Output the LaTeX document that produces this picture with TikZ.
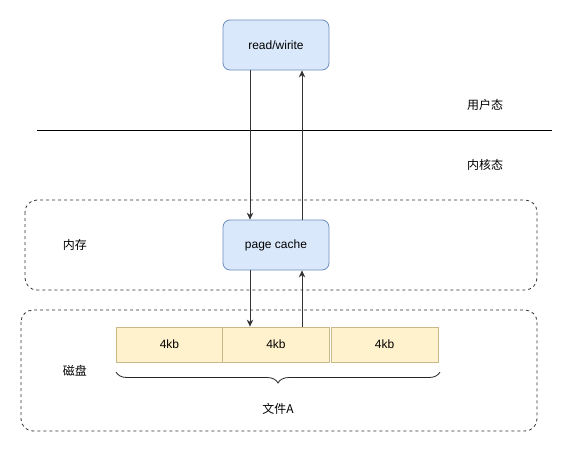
\documentclass[tikz,border=0pt]{standalone}
\usepackage{fontspec}
\setmainfont{Liberation Sans}
\newfontfamily\cjk{Noto Sans CJK SC}
\usetikzlibrary{arrows.meta,decorations.pathreplacing}
\definecolor{bluefill}{HTML}{DAE8FC}
\definecolor{blueline}{HTML}{6C8EBF}
\definecolor{yelfill}{HTML}{FFF2CC}
\definecolor{yelline}{HTML}{C8B88A}
\definecolor{arrowcol}{HTML}{333333}
\tikzset{
  procbox/.style={draw=blueline, fill=bluefill, rounded corners=7pt, line width=0.8pt,
    minimum width=106pt, minimum height=50pt, inner sep=0pt, font=\fontsize{12}{14}\selectfont},
  blockbox/.style={draw=yelline, fill=yelfill, line width=0.8pt,
    minimum width=107pt, minimum height=35pt, inner sep=0pt, font=\fontsize{12}{14}\selectfont},
  zone/.style={draw=black!80, dashed, rounded corners=12pt, line width=0.8pt},
  lbl/.style={font=\fontsize{12}{14}\selectfont\cjk, inner sep=0pt},
  flow/.style={draw=arrowcol, line width=0.9pt, -{Stealth[length=7pt,width=6.5pt]}},
}
\begin{document}
\begin{tikzpicture}[x=1pt,y=-1pt]
\useasboundingbox (0,0) rectangle (574,451);
\fill[white] (0,0) rectangle (574,451);
% zones
\draw[zone] (25,200) rectangle (537,290);
\draw[zone] (21,310) rectangle (537,431);
% separator
\draw[black, line width=0.8pt] (37,130) -- (552,130);
\node[lbl] (user) at (485,105) {用户态};
\node[lbl] (kernel) at (485,165) {内核态};
\node[lbl] (mem) at (75,245) {内存};
\node[lbl] (disk) at (75,371) {磁盘};
% boxes
\node[procbox] (rw) at (276,45) {read/wirite};
\node[procbox] (pc) at (276,245) {page cache};
\node[blockbox] (b1) at (169.5,344.5) {4kb};
\node[blockbox] (b2) at (276,344.5) {4kb};
\node[blockbox] (b3) at (384.5,344.5) {4kb};
% arrows
\draw[flow] (rw.south -| 250,0) -- (pc.north -| 250,0);
\draw[flow] (pc.north -| 302,0) -- (rw.south -| 302,0);
\draw[flow] (pc.south -| 250,0) -- (b1.north -| 250,0);
\draw[flow] (b2.north -| 302,0) -- (pc.south -| 302,0);
% brace
\coordinate (brL) at (116,372);
\coordinate (brR) at (440,372);
\draw[black!85, line width=0.8pt, decorate, decoration={brace, mirror, amplitude=11pt, aspect=0.5}] (brL) -- (brR);
\node[lbl] (file) at (278,409) {文件A};
\end{tikzpicture}
\end{document}
